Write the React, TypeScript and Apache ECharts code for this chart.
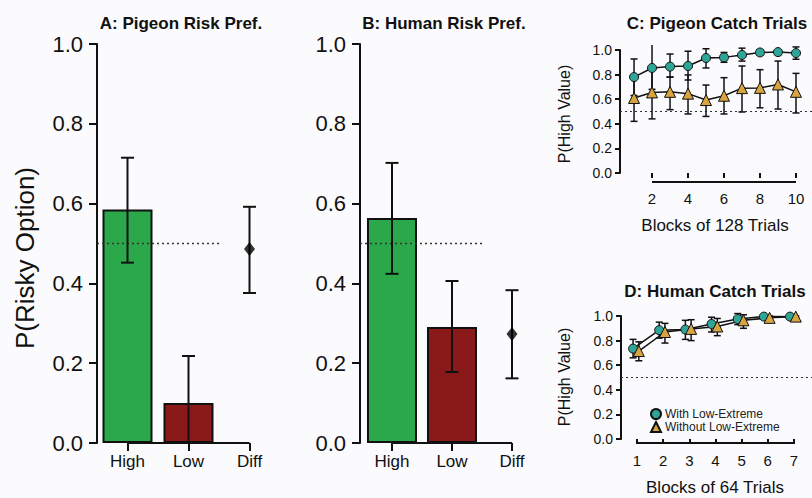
import React, { useEffect, useRef } from "react";
import * as echarts from "echarts";

// ---------- data ----------
const riskCats = ["High", "Low", "Diff"];
const pigeonRiskMean = [0.585, 0.1, 0.486];
const pigeonRiskLo = [0.452, -0.02, 0.376];
const pigeonRiskHi = [0.715, 0.218, 0.592];
const humanRiskMean = [0.564, 0.291, 0.273];
const humanRiskLo = [0.424, 0.178, 0.162];
const humanRiskHi = [0.702, 0.406, 0.383];

const pigeonBlocks = [1, 2, 3, 4, 5, 6, 7, 8, 9, 10];
const pigeonTicks = [2, 4, 6, 8, 10];
const pcWithMean = [0.78, 0.854, 0.865, 0.87, 0.935, 0.94, 0.96, 0.98, 0.983, 0.975];
const pcWithLo = [0.63, 0.68, 0.78, 0.756, 0.854, 0.9, 0.91, 0.96, 0.96, 0.925];
const pcWithHi = [0.927, 1.06, 0.967, 0.99, 1.01, 0.98, 1.015, 1.0, 1.0, 1.025];
const pcWithoutMean = [0.61, 0.655, 0.66, 0.645, 0.593, 0.628, 0.69, 0.692, 0.72, 0.66];
const pcWithoutLo = [0.42, 0.44, 0.515, 0.48, 0.46, 0.48, 0.496, 0.53, 0.52, 0.488];
const pcWithoutHi = [0.8, 0.86, 0.78, 0.797, 0.715, 0.775, 0.87, 0.84, 0.91, 0.81];

const humanBlocks = [1, 2, 3, 4, 5, 6, 7];
const hcWithMean = [0.735, 0.885, 0.89, 0.935, 0.975, 0.995, 0.995];
const hcWithLo = [0.66, 0.82, 0.81, 0.87, 0.93, 0.98, 0.985];
const hcWithHi = [0.81, 0.95, 0.965, 0.99, 1.02, 1.01, 1.0];
const hcWithoutMean = [0.715, 0.87, 0.895, 0.915, 0.965, 0.985, 0.995];
const hcWithoutLo = [0.636, 0.78, 0.8, 0.84, 0.9, 0.95, 0.985];
const hcWithoutHi = [0.79, 0.94, 0.97, 0.98, 1.01, 1.0, 1.0];

const chance = 0.5;
const seriesNames = ["With Low-Extreme", "Without Low-Extreme"];

// ---------- style ----------
const FONT = "'Liberation Sans', Arial, Helvetica, sans-serif";
const INK = "#111111";
const GREEN = "#2aa84a";
const RED = "#8a1a1a";
const TEAL = "#2fa598";
const GOLD = "#d8a440";
const BG = "#fbfbfd";

function errorBars(
  xi: number,
  data: number[][],
  capHalf: number,
  lw: number,
  yMin: number,
  yMax: number,
  z: number
) {
  return {
    type: "custom",
    xAxisIndex: xi,
    yAxisIndex: xi,
    z,
    silent: true,
    data,
    encode: { x: 0, y: [1, 2] },
    renderItem: (_p: any, api: any) => {
      const x = api.value(0);
      const lo = api.value(1);
      const hi = api.value(2);
      const loC = Math.max(lo, yMin);
      const hiC = Math.min(hi, yMax);
      const a = api.coord([x, loC]);
      const b = api.coord([x, hiC]);
      const st = { stroke: INK, lineWidth: lw };
      const children: any[] = [
        { type: "line", shape: { x1: a[0], y1: a[1], x2: b[0], y2: b[1] }, style: st },
      ];
      if (hi <= yMax)
        children.push({ type: "line", shape: { x1: b[0] - capHalf, y1: b[1], x2: b[0] + capHalf, y2: b[1] }, style: st });
      if (lo >= yMin)
        children.push({ type: "line", shape: { x1: a[0] - capHalf, y1: a[1], x2: a[0] + capHalf, y2: a[1] }, style: st });
      return { type: "group", children };
    },
  };
}

function hLine(xi: number, x0: number, y: number, x1: number, lw: number, dash: number[] | null, pxOffset: number, z: number, color = INK) {
  return {
    type: "custom",
    xAxisIndex: xi,
    yAxisIndex: xi,
    z,
    silent: true,
    data: [[x0, y, x1]],
    encode: { x: [0, 2], y: 1 },
    renderItem: (_p: any, api: any) => {
      const a = api.coord([api.value(0), api.value(1)]);
      const b = api.coord([api.value(2), api.value(1)]);
      return {
        type: "line",
        shape: { x1: a[0], y1: a[1] + pxOffset, x2: b[0], y2: b[1] + pxOffset },
        style: { stroke: color, lineWidth: lw, lineDash: dash || undefined },
      };
    },
  };
}

function yAxisBig(gi: number) {
  return {
    type: "value",
    gridIndex: gi,
    min: 0,
    max: 1,
    interval: 0.2,
    axisLine: { show: true, lineStyle: { color: INK, width: 2 } },
    axisTick: { show: true, length: 8, lineStyle: { color: INK, width: 2 } },
    axisLabel: { fontSize: 22, fontFamily: FONT, color: INK, margin: 14, formatter: (v: number) => v.toFixed(1) },
    splitLine: { show: false },
  };
}

function yAxisSmall(gi: number) {
  return {
    type: "value",
    gridIndex: gi,
    min: 0,
    max: 1,
    interval: 0.2,
    axisLine: { show: true, lineStyle: { color: INK, width: 2 } },
    axisTick: { show: true, length: 5, lineStyle: { color: INK, width: 2 } },
    axisLabel: { fontSize: 14, fontFamily: FONT, color: INK, margin: 8, formatter: (v: number) => v.toFixed(1) },
    splitLine: { show: false },
  };
}

function xAxisCustom(gi: number, min: number, max: number, ticks: number[], fmt: (v: number) => string, fontSize: number, tickLen: number, margin: number, offset: number, tw: number) {
  return {
    type: "value",
    gridIndex: gi,
    min,
    max,
    offset,
    axisLine: { show: false },
    axisTick: { show: true, customValues: ticks, length: tickLen, lineStyle: { color: INK, width: tw } },
    axisLabel: { show: true, customValues: ticks, fontSize, fontFamily: FONT, color: INK, margin, formatter: fmt },
    splitLine: { show: false },
  };
}

function txt(text: string, x: number, y: number, font: string, rotation = 0) {
  return {
    type: "text",
    x,
    y,
    rotation,
    silent: true,
    style: {
      text,
      font,
      fill: INK,
      align: "center",
      verticalAlign: "middle",
      textAlign: "center",
      textVerticalAlign: "middle",
    },
  };
}

export default function App() {
  const ref = useRef<HTMLDivElement>(null);

  useEffect(() => {
    if (!ref.current) return;
    const chart = echarts.init(ref.current, undefined, { renderer: "svg" });

    const catX = riskCats.map((_, i) => i + 1);
    const aMin = 0.5, aMax = 3.5;
    const bMin = 0.467, bMax = 3.5;
    const cMin = 0.22, cMax = 10.89;
    const dMin = 0.389, dMax = 7.69;
    const dJitterWith = -0.15;
    const dJitterWithout = 0.07;
    const refEnd = 2.55;

    const barSeries = (gi: number, mean: number[]) => ({
      type: "bar",
      xAxisIndex: gi,
      yAxisIndex: gi,
      barWidth: 50,
      z: 2,
      data: [0, 1].map((i) => ({
        value: [catX[i], mean[i]],
        itemStyle: { color: i === 0 ? GREEN : RED },
      })),
      itemStyle: { borderColor: INK, borderWidth: 2 },
    });

    const diffSeries = (gi: number, mean: number[]) => ({
      type: "scatter",
      xAxisIndex: gi,
      yAxisIndex: gi,
      z: 5,
      symbol: "diamond",
      symbolSize: [11, 14],
      itemStyle: { color: "#000" },
      data: [[catX[2], mean[2]]],
    });

    const lineSeries = (gi: number, name: string, xs: number[], ys: number[], symbol: string, size: number, color: string) => ({
      type: "line",
      name,
      xAxisIndex: gi,
      yAxisIndex: gi,
      z: 4,
      symbol,
      symbolSize: size,
      showAllSymbol: true,
      data: xs.map((x, i) => [x, ys[i]]),
      lineStyle: { color: INK, width: 1.5 },
      itemStyle: { color, borderColor: INK, borderWidth: 1 },
    });

    const option: any = {
      animation: false,
      backgroundColor: BG,
      grid: [
        { left: 97, top: 44, width: 183, height: 399, containLabel: false, outerBoundsMode: "none" },
        { left: 360, top: 44, width: 182, height: 399, containLabel: false, outerBoundsMode: "none" },
        { left: 620, top: 50, width: 192, height: 123, containLabel: false, outerBoundsMode: "none" },
        { left: 621, top: 316, width: 191, height: 123, containLabel: false, outerBoundsMode: "none" },
      ],
      xAxis: [
        xAxisCustom(0, aMin, aMax, catX, (v) => riskCats[Math.round(v) - 1] ?? "", 17, 8, 10, 0, 2),
        xAxisCustom(1, bMin, bMax, catX, (v) => riskCats[Math.round(v) - 1] ?? "", 17, 8, 10, 0, 2),
        xAxisCustom(2, cMin, cMax, pigeonTicks, (v) => String(v), 15, 5, 9, 9, 2),
        xAxisCustom(3, dMin, dMax, humanBlocks, (v) => String(v), 15, 5, 10, 4, 2),
      ],
      yAxis: [yAxisBig(0), yAxisBig(1), yAxisSmall(2), yAxisSmall(3)],
      legend: {
        data: [
          { name: seriesNames[0], icon: "circle" },
          { name: seriesNames[1], icon: "triangle" },
        ],
        orient: "vertical",
        left: 650,
        top: 408,
        padding: 0,
        itemWidth: 10,
        itemHeight: 10,
        itemGap: 1,
        selectedMode: false,
        textStyle: { fontSize: 12, fontFamily: FONT, color: "#222", padding: [0, 0, 0, -1] },
      },
      graphic: [
        txt("A: Pigeon Risk Pref.", 181, 23, `bold 17px ${FONT}`),
        txt("B: Human Risk Pref.", 444, 23, `bold 17px ${FONT}`),
        txt("C: Pigeon Catch Trials", 717, 23, `bold 17px ${FONT}`),
        txt("D: Human Catch Trials", 715, 291, `bold 17px ${FONT}`),
        txt("P(Risky Option)", 25, 258, `26px ${FONT}`, Math.PI / 2),
        txt("P(High Value)", 564, 114, `16px ${FONT}`, Math.PI / 2),
        txt("P(High Value)", 564, 377, `16px ${FONT}`, Math.PI / 2),
        txt("Blocks of 128 Trials", 715, 225, `17px ${FONT}`),
        txt("Blocks of 64 Trials", 715, 487, `17px ${FONT}`),
      ],
      series: [
        // Panel A
        barSeries(0, pigeonRiskMean),
        hLine(0, catX[0], 0, catX[2], 2, null, 0, 3),
        hLine(0, aMin, chance, refEnd, 1.3, [2, 3], 0, 3, "#333"),
        errorBars(0, catX.map((x, i) => [x, pigeonRiskLo[i], pigeonRiskHi[i]]), 6.5, 2, 0, 1, 4),
        diffSeries(0, pigeonRiskMean),
        // Panel B
        barSeries(1, humanRiskMean),
        hLine(1, catX[0], 0, catX[2], 2, null, 0, 3),
        hLine(1, bMin, chance, refEnd, 1.3, [2, 3], 0, 3, "#333"),
        errorBars(1, catX.map((x, i) => [x, humanRiskLo[i], humanRiskHi[i]]), 6.5, 2, 0, 1, 4),
        diffSeries(1, humanRiskMean),
        // Panel C
        hLine(2, pigeonTicks[0], 0, pigeonTicks[pigeonTicks.length - 1], 2, null, 9, 3),
        hLine(2, cMin, chance, cMax, 1.2, [2, 3], 0, 1, "#333"),
        errorBars(2, pigeonBlocks.map((x, i) => [x, pcWithoutLo[i], pcWithoutHi[i]]), 3.5, 1.5, -0.04, 1.04, 2),
        errorBars(2, pigeonBlocks.map((x, i) => [x, pcWithLo[i], pcWithHi[i]]), 3.5, 1.5, -0.04, 1.04, 2),
        lineSeries(2, seriesNames[0], pigeonBlocks, pcWithMean, "circle", 9, TEAL),
        lineSeries(2, seriesNames[1], pigeonBlocks, pcWithoutMean, "triangle", 11, GOLD),
        // Panel D
        hLine(3, humanBlocks[0], 0, humanBlocks[humanBlocks.length - 1], 2, null, 4, 3),
        hLine(3, dMin, chance, dMax, 1.2, [2, 3], 0, 1, "#333"),
        errorBars(3, humanBlocks.map((x, i) => [x + dJitterWith, hcWithLo[i], hcWithHi[i]]), 3.5, 1.5, -0.04, 1.04, 2),
        errorBars(3, humanBlocks.map((x, i) => [x + dJitterWithout, hcWithoutLo[i], hcWithoutHi[i]]), 3.5, 1.5, -0.04, 1.04, 2),
        lineSeries(3, seriesNames[0], humanBlocks.map((x) => x + dJitterWith), hcWithMean, "circle", 9, TEAL),
        lineSeries(3, seriesNames[1], humanBlocks.map((x) => x + dJitterWithout), hcWithoutMean, "triangle", 11, GOLD),
      ],
    };

    chart.setOption(option);
    return () => chart.dispose();
  }, []);

  return (
    <div
      ref={ref}
      style={{ position: "absolute", left: 0, top: 0, width: 812, height: 498, background: BG }}
    />
  );
}
